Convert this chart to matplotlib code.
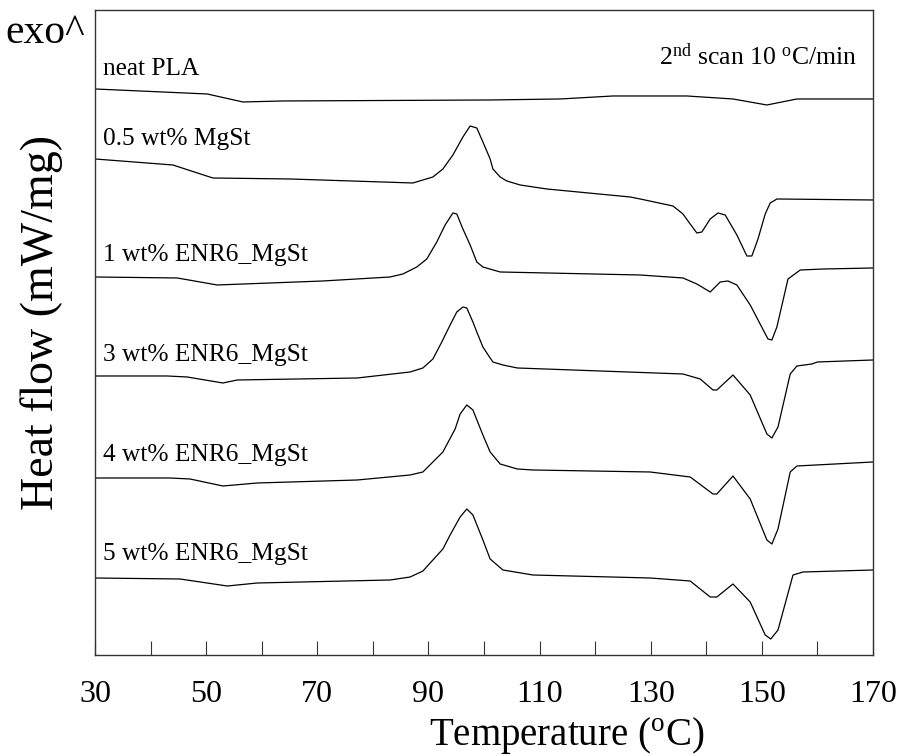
import matplotlib
matplotlib.use("Agg")
import matplotlib.pyplot as plt
from matplotlib.ticker import FixedLocator

plt.rcParams["font.family"] = "Liberation Serif"
plt.rcParams["mathtext.fontset"] = "custom"
plt.rcParams["mathtext.rm"] = "Liberation Serif"
plt.rcParams["mathtext.it"] = "Liberation Serif:italic"

# DSC 2nd heating curves, temperature (C) vs heat flow (stacked, arbitrary offset)
t_neat = [30, 50.2, 56.6, 63.8, 101.1, 113.7, 123.2, 136.5, 144.8, 150.9, 156.3, 170]
h_neat = [5.66, 5.61, 5.53, 5.54, 5.55, 5.56, 5.59, 5.59, 5.56, 5.50, 5.56, 5.56]

t_05 = [30, 44.0, 51.2, 65.1, 87.2, 89.0, 90.8, 92.6, 94.4, 96.2, 97.5, 98.7, 99.8,
        101.1, 101.6, 102.9, 104.1, 106.5, 111.3, 126.3, 128.1, 134.0, 135.8, 137.1,
        138.3, 139.2, 140.7, 142.1, 143.4, 145.5, 147.3, 148.2, 149.3, 150.6, 151.5,
        152.7, 170]
h_05 = [4.96, 4.90, 4.77, 4.76, 4.72, 4.75, 4.78, 4.86, 5.00, 5.18, 5.29, 5.27, 5.13,
        4.96, 4.86, 4.78, 4.74, 4.70, 4.66, 4.58, 4.56, 4.49, 4.41, 4.31,
        4.22, 4.23, 4.36, 4.42, 4.40, 4.20, 3.99, 3.99, 4.16, 4.41, 4.52,
        4.56, 4.55]

t_1 = [30, 44.8, 52.0, 71.0, 83.1, 85.4, 87.9, 89.7, 91.5, 93.0, 94.4, 95.1, 96.2,
       97.5, 98.7, 99.8, 102.9, 111.3, 128.1, 135.8, 138.3, 140.7, 142.5, 143.9,
       145.5, 147.9, 151.1, 151.8, 152.7, 154.7, 156.9, 161.1, 170]
h_1 = [3.78, 3.77, 3.70, 3.74, 3.78, 3.81, 3.88, 3.96, 4.13, 4.30, 4.42, 4.41, 4.26,
       4.10, 3.93, 3.88, 3.83, 3.82, 3.80, 3.77, 3.71, 3.63, 3.73, 3.74,
       3.70, 3.50, 3.16, 3.15, 3.28, 3.76, 3.85, 3.86, 3.87]

t_3 = [30, 43.0, 46.6, 53.0, 55.6, 77.2, 86.7, 89.0, 90.8, 92.4, 93.9, 95.1, 96.2,
       96.9, 98.0, 98.7, 99.8, 101.1, 101.6, 103.4, 106.0, 135.8, 138.9, 141.2,
       141.9, 144.8, 147.9, 150.9, 151.8, 152.9, 155.1, 156.3, 159.0, 160.0, 170]
h_3 = [2.79, 2.79, 2.78, 2.72, 2.75, 2.77, 2.83, 2.87, 2.96, 3.13, 3.30, 3.43, 3.48,
       3.47, 3.33, 3.23, 3.08, 2.97, 2.93, 2.90, 2.87, 2.81, 2.76, 2.65,
       2.65, 2.80, 2.60, 2.21, 2.17, 2.28, 2.81, 2.89, 2.91, 2.93, 2.95]

t_4 = [30, 43.5, 47.1, 53.0, 59.2, 77.2, 86.7, 89.0, 92.6, 94.8, 95.7, 96.9, 98.0,
       99.8, 101.1, 102.9, 106.0, 108.8, 129.9, 137.1, 141.2, 141.9, 144.8, 147.9,
       150.9, 151.8, 152.9, 155.1, 156.3, 170]
h_4 = [1.77, 1.77, 1.76, 1.69, 1.72, 1.75, 1.80, 1.83, 2.03, 2.26, 2.41, 2.50, 2.45,
       2.20, 2.03, 1.91, 1.86, 1.85, 1.83, 1.78, 1.61, 1.61, 1.79, 1.56,
       1.15, 1.11, 1.26, 1.83, 1.89, 1.93]

t_5 = [30, 45.3, 53.8, 59.2, 83.1, 86.7, 89.0, 92.6, 93.9, 95.7, 96.9, 98.0, 99.8,
       101.1, 103.4, 108.8, 129.9, 137.1, 140.7, 141.9, 144.8, 147.9, 150.6, 151.6,
       152.9, 155.6, 157.4, 170]
h_5 = [0.77, 0.76, 0.69, 0.72, 0.75, 0.78, 0.84, 1.06, 1.20, 1.38, 1.46, 1.40, 1.15,
       0.96, 0.85, 0.80, 0.77, 0.74, 0.58, 0.58, 0.71, 0.53, 0.20, 0.16,
       0.25, 0.80, 0.83, 0.85]

curves = [(t_neat, h_neat), (t_05, h_05), (t_1, h_1), (t_3, h_3), (t_4, h_4), (t_5, h_5)]
labels = ["neat PLA", "0.5 wt% MgSt", "1 wt% ENR6_MgSt", "3 wt% ENR6_MgSt",
          "4 wt% ENR6_MgSt", "5 wt% ENR6_MgSt"]
label_h = [5.86, 5.16, 4.00, 3.00, 2.00, 1.01]

major_ticks = [30, 50, 70, 90, 110, 130, 150, 170]
minor_ticks = [40, 60, 80, 100, 120, 140, 160]

fig = plt.figure(figsize=(8.99, 7.56), dpi=100)
ax = fig.add_axes([0.1057, 0.1336, 0.8654, 0.8532])

for (t, h) in curves:
    ax.plot(t, h, color="black", lw=0.9)

for lab, y in zip(labels, label_h):
    ax.text(31.4, y, lab, fontsize=18.3, va="center", ha="left")

ax.text(167.2, 5.98, r"2$^{\rm nd}$ scan 10 $^{\rm o}$C/min", fontsize=18.5,
        ha="right", va="center")

ax.set_xlim(30, 170)
ax.set_ylim(0, 6.45)
ax.xaxis.set_major_locator(FixedLocator(major_ticks))
ax.xaxis.set_minor_locator(FixedLocator(minor_ticks))
ax.tick_params(axis="x", which="both", direction="in", length=10, width=0.8,
               color="#333333", top=False)
ax.tick_params(axis="x", which="major", labelsize=23, pad=18)
ax.set_yticks([])
for s in ax.spines.values():
    s.set_color("#333333")
    s.set_linewidth(1.0)

fig.text(567 / 899, 1 - 735 / 756, r"Temperature ($^{\rm o}$C)", fontsize=28,
         ha="center", va="center")
fig.text(42 / 899, 1 - 322 / 756, "Heat flow (mW/mg)", fontsize=33,
         ha="center", va="center", rotation=90)
fig.text(5 / 899, 1 - 33 / 756, "exo^", fontsize=30, ha="left", va="center")

fig.savefig("out.png", dpi=100)
